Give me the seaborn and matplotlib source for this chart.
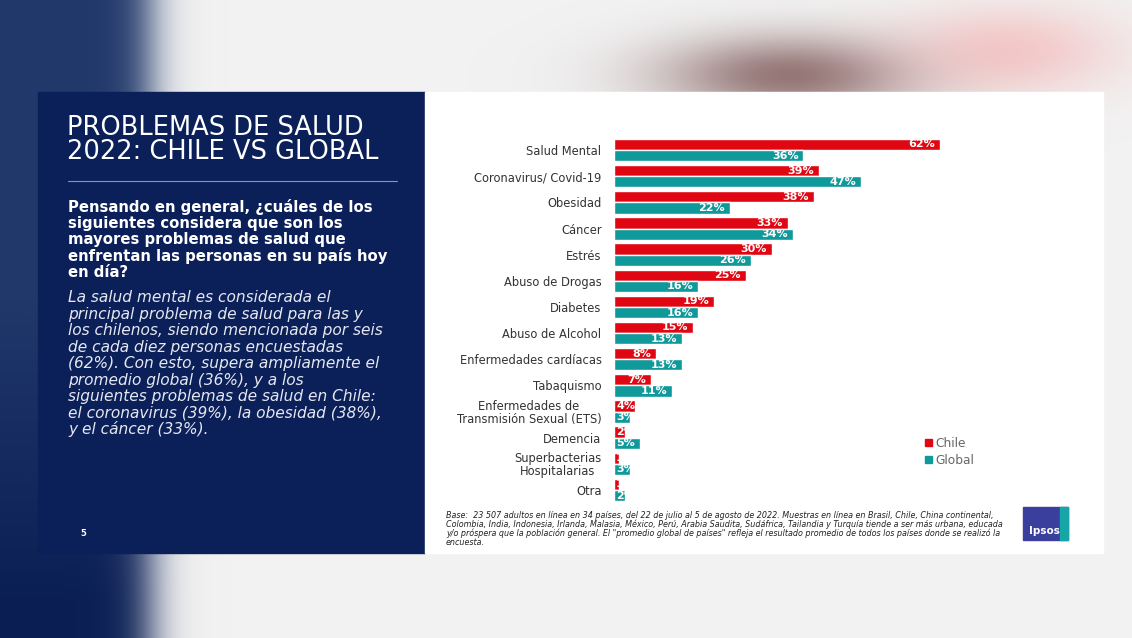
import numpy as np
import pandas as pd
import matplotlib
matplotlib.use('Agg')
import matplotlib.pyplot as plt
import matplotlib.transforms as mtransforms
from matplotlib.patches import Rectangle
import seaborn as sns

# ------------------------------------------------------------------
#                               DATA
categorias = ['Salud Mental', 'Coronavirus/ Covid-19', 'Obesidad', 'Cáncer', 'Estrés',
              'Abuso de Drogas', 'Diabetes', 'Abuso de Alcohol', 'Enfermedades cardíacas',
              'Tabaquismo', 'Enfermedades de\nTransmisión Sexual (ETS)', 'Demencia',
              'Superbacterias\nHospitalarias', 'Otra']
chile = [62, 39, 38, 33, 30, 25, 19, 15, 8, 7, 4, 2, 1, 1]
global_ = [36, 47, 22, 34, 26, 16, 16, 13, 13, 11, 3, 5, 3, 2]
series = ['Chile', 'Global']
colores = ['#e00712', '#10999a']

titulo = 'PROBLEMAS DE SALUD\n2022: CHILE VS GLOBAL'
pregunta = ['Pensando en general, ¿cuáles de los',
            'siguientes considera que son los',
            'mayores problemas de salud que',
            'enfrentan las personas en su país hoy',
            'en día?']
comentario = ['La salud mental es considerada el',
              'principal problema de salud para las y',
              'los chilenos, siendo mencionada por seis',
              'de cada diez personas encuestadas',
              '(62%). Con esto, supera ampliamente el',
              'promedio global (36%), y a los',
              'siguientes problemas de salud en Chile:',
              'el coronavirus (39%), la obesidad (38%),',
              'y el cáncer (33%).']
nota = ('Base:  23 507 adultos en línea en 34 países, del 22 de julio al 5 de agosto de 2022. Muestras en línea en Brasil, Chile, China continental,\n'
        'Colombia, India, Indonesia, Irlanda, Malasia, México, Perú, Arabia Saudita, Sudáfrica, Tailandia y Turquía tiende a ser más urbana, educada\n'
        'y/o próspera que la población general. El "promedio global de países" refleja el resultado promedio de todos los países donde se realizó la\n'
        'encuesta.')

df = pd.DataFrame({
    'categoria': categorias * 2,
    'serie': ['Chile'] * len(categorias) + ['Global'] * len(categorias),
    'valor': chile + global_,
})
# ------------------------------------------------------------------

sns.set_theme(style='white')
plt.rcParams['font.family'] = ['DejaVu Sans']

W, H = 1132, 638
fig = plt.figure(figsize=(W / 100, H / 100), dpi=100)

# Background (blurred photo look) drawn in pixel coordinates
bg = fig.add_axes([0, 0, 1, 1])
bg.set_xlim(0, W)
bg.set_ylim(H, 0)
bg.axis('off')

xx, yy = np.meshgrid(np.arange(W), np.arange(H))
base = np.ones((H, W, 3)) * np.array([0.95, 0.95, 0.95])
mix = np.clip((yy - 300) / 300, 0, 1)[..., None]
navy = np.array([0.13, 0.22, 0.42]) * (1 - mix) + np.array([0.04, 0.12, 0.33]) * mix
a = 1 / (1 + np.exp((xx - 150) / 12))
img = base * (1 - a[..., None]) + navy * a[..., None]
brown = np.exp(-((xx - 790) / 130) ** 2 - ((yy - 75) / 40) ** 2)
pink = np.exp(-((xx - 1010) / 110) ** 2 - ((yy - 50) / 45) ** 2)
img = img * (1 - 0.85 * brown[..., None]) + np.array([0.52, 0.38, 0.38]) * 0.85 * brown[..., None]
img = img * (1 - 0.6 * pink[..., None]) + np.array([0.96, 0.68, 0.68]) * 0.6 * pink[..., None]
bg.imshow(img, extent=(0, W, H, 0), aspect='auto', zorder=0)

# Slide panels
bg.add_patch(Rectangle((38, 92), 387, 461, color='#0b1f59', zorder=1))
bg.add_patch(Rectangle((425, 92), 678, 461, color='white', zorder=1))

# Left panel texts
bg.text(67, 140, titulo, color='white', fontsize=18.5, va='center', ha='left',
        linespacing=0.9, zorder=2)
bg.plot([68, 397], [181, 181], color='#8a93b5', lw=0.8, zorder=2)
for i, linea in enumerate(pregunta):
    bg.text(68, 207 + i * 16.3, linea, color='white', fontsize=10.7, fontweight='bold',
            va='center', ha='left', zorder=2)
for i, linea in enumerate(comentario):
    bg.text(68, 298 + i * 16.4, linea, color='#e6e8f0', fontsize=11.1, style='italic',
            va='center', ha='left', zorder=2)
bg.text(80, 534, '5', color='white', fontsize=6, fontweight='bold', va='center', zorder=2)

# Footnote
bg.text(446, 529, nota, color='#222222', fontsize=5.8, style='italic', va='center',
        ha='left', linespacing=0.95, zorder=2)

# Ipsos logo
bg.add_patch(Rectangle((1023, 507), 45, 33, color='#3a3f9e', zorder=2))
bg.add_patch(Rectangle((1060, 507), 8, 33, color='#17a6a8', zorder=3))
bg.text(1044, 531, 'Ipsos', color='white', fontsize=7.5, fontweight='bold',
        ha='center', va='center', zorder=4)

# Bar chart
ax = fig.add_axes([614 / W, (H - 503) / H, 400 / W, 366 / H])
ax.patch.set_alpha(0)
sns.barplot(data=df, y='categoria', x='valor', hue='serie', hue_order=series,
            palette=colores, orient='h', width=0.86, saturation=1, legend=False, ax=ax)
ax.set_xlim(0, 76)
ax.set_ylim(13.5, -0.5)
ax.set_xlabel('')
ax.set_ylabel('')
ax.set_xticks([])
sns.despine(ax=ax, left=True, bottom=True)
ax.tick_params(axis='y', length=0, pad=9, labelsize=8.3, labelcolor='#333333')
for lab in ax.get_yticklabels():
    lab.set_multialignment('center')
    lab.set_linespacing(1.0)

off_r = mtransforms.offset_copy(ax.transData, fig=fig, x=-3.5, y=0, units='points')
off_l = mtransforms.offset_copy(ax.transData, fig=fig, x=1.5, y=0, units='points')
for cont, vals in zip(ax.containers, [chile, global_]):
    for bar, v in zip(cont, vals):
        yc = bar.get_y() + bar.get_height() / 2
        if v >= 6:
            t = ax.text(v, yc, f'{v}%', transform=off_r, ha='right', va='center',
                        color='white', fontsize=8, fontweight='bold')
        else:
            t = ax.text(0, yc, f'{v}%', transform=off_l, ha='left', va='center',
                        color='white', fontsize=8, fontweight='bold')
        t.set_clip_path(bar)

handles = [Rectangle((0, 0), 1, 1, color=c) for c in colores]
fig.legend(handles, series, loc='upper left', bbox_to_anchor=(914 / W, 1 - 426 / H),
           frameon=False, handlelength=0.55, handleheight=0.55, handletextpad=0.3,
           labelspacing=0.3, fontsize=8.8, labelcolor='#666666')

fig.savefig('out.png', dpi=100)
